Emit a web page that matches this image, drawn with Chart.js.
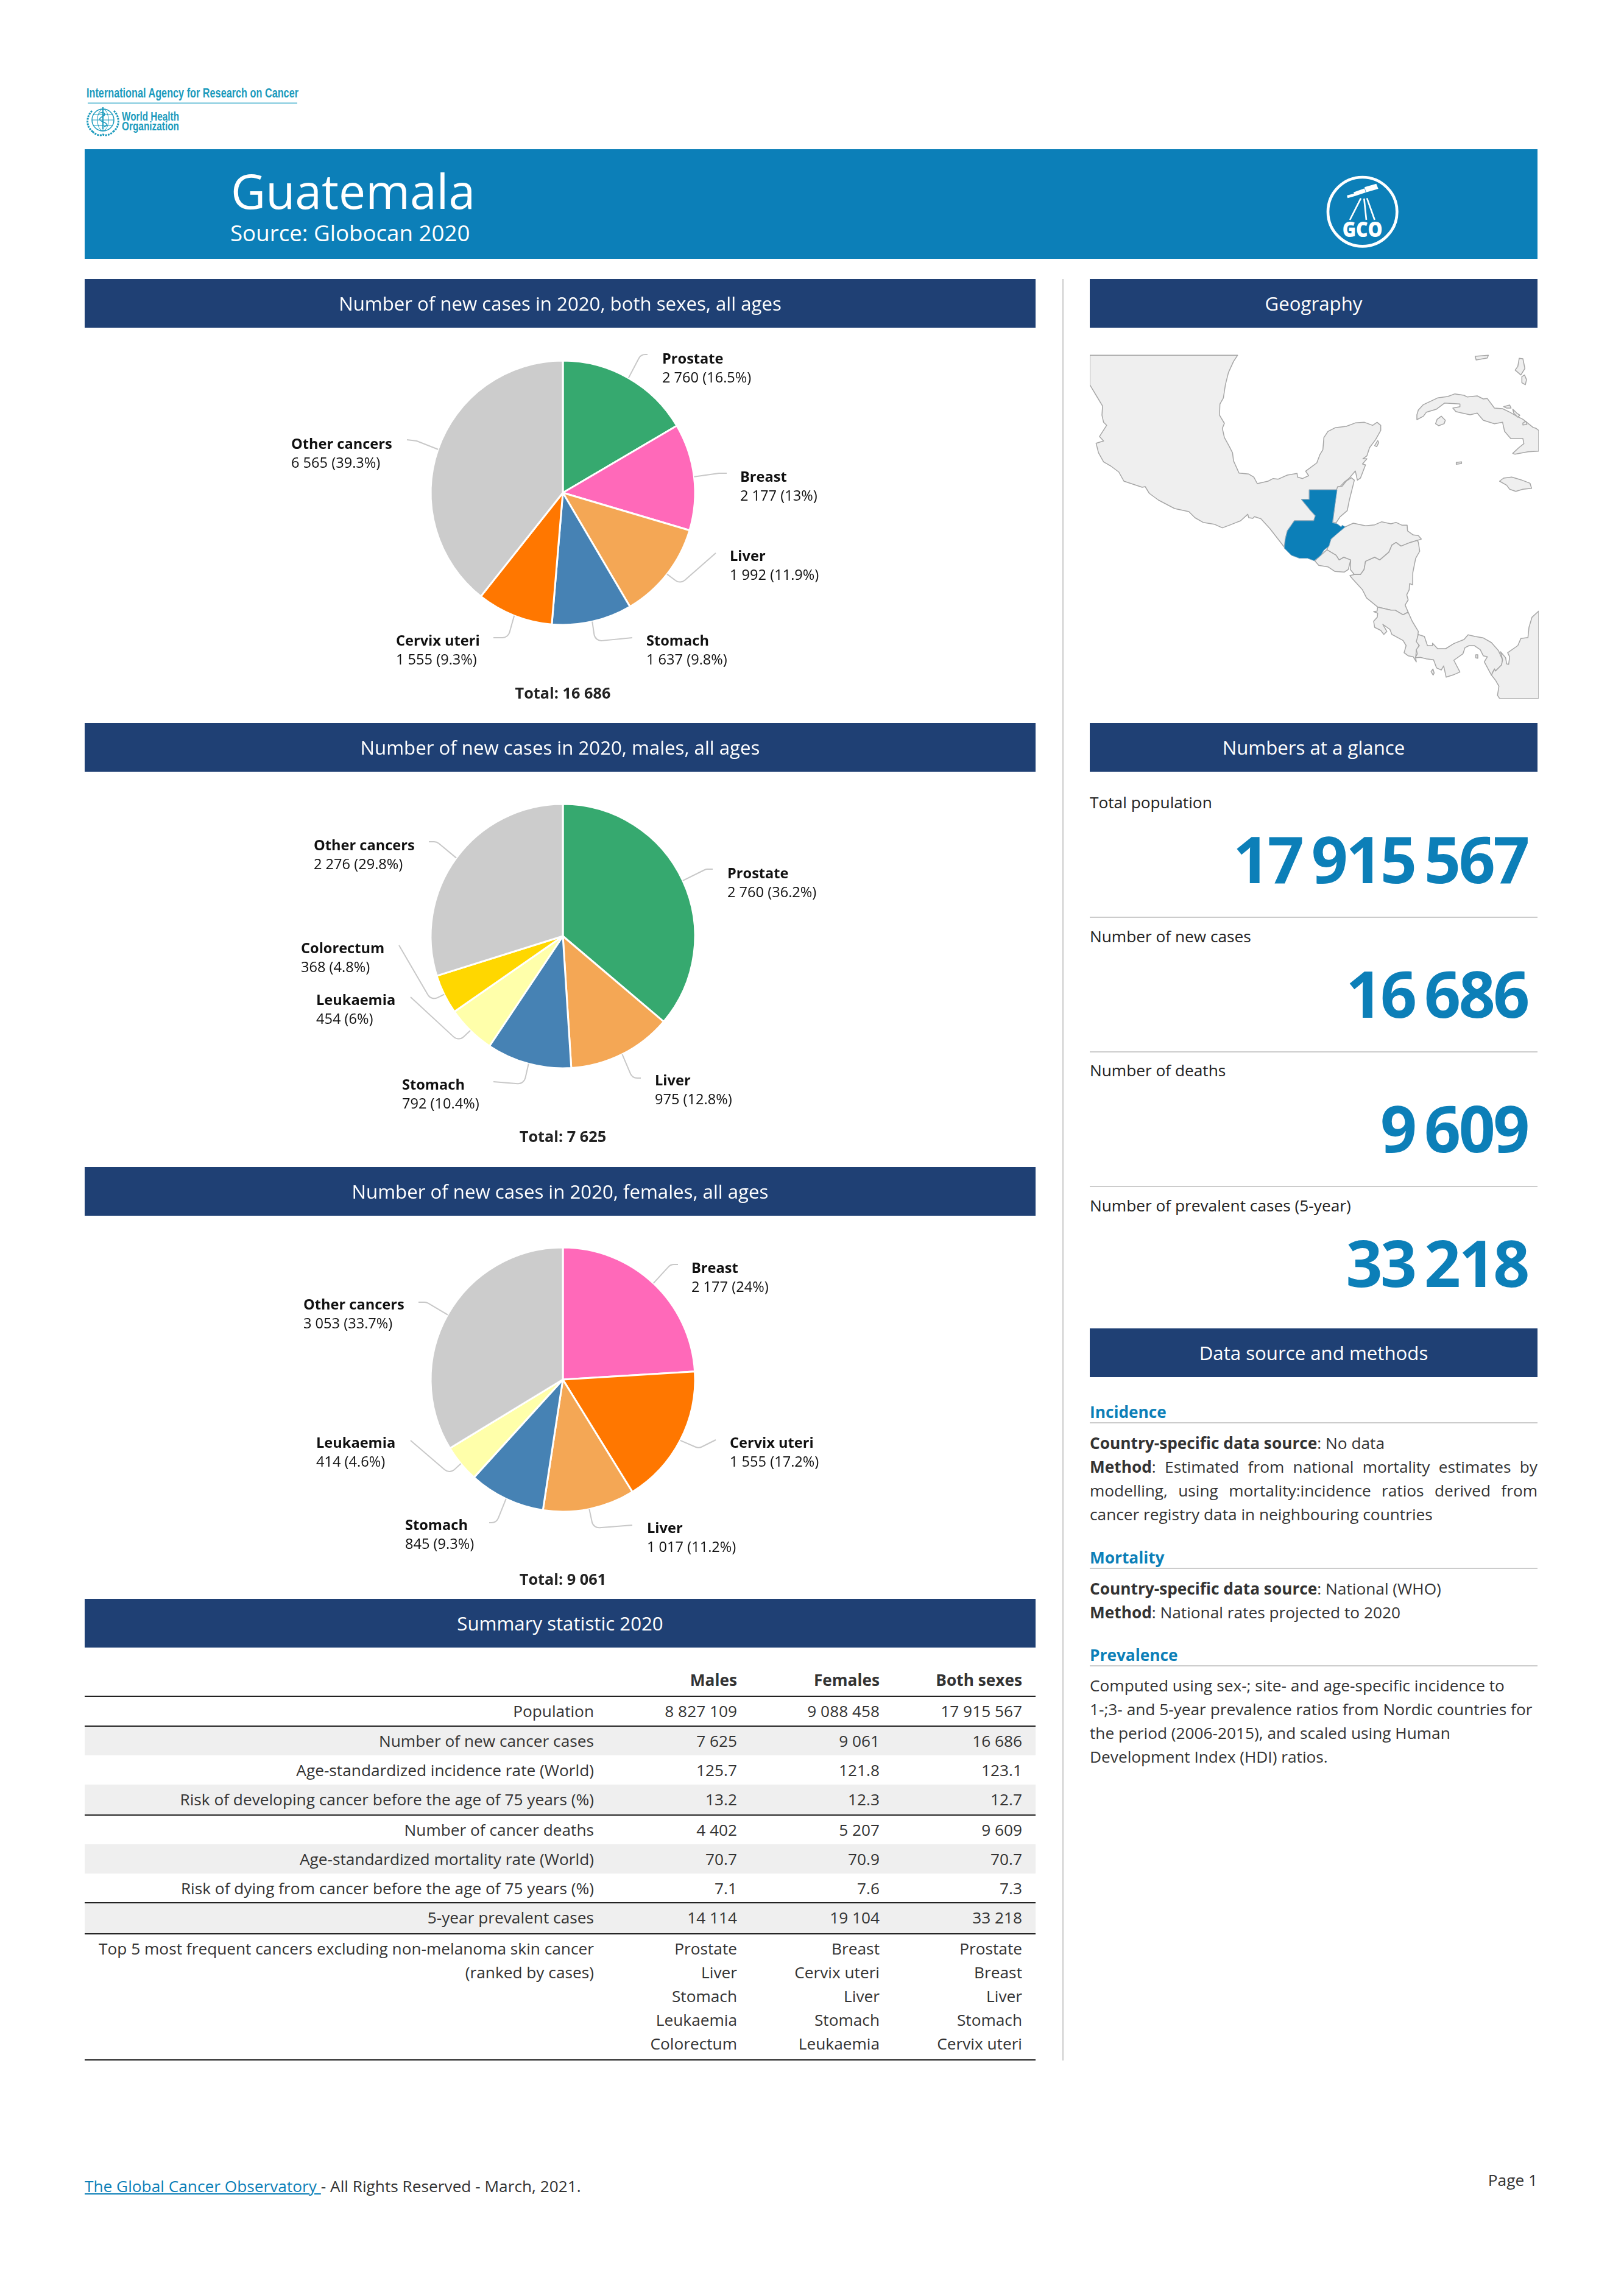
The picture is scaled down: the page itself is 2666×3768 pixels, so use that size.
<!DOCTYPE html>
<html><head><meta charset="utf-8">
<script src="https://cdn.jsdelivr.net/npm/chart.js@4"></script>
<style>
html,body{margin:0;padding:0;background:#fff;width:2666px;height:3768px;overflow:hidden}
body{position:relative;font-family:"Open Sans",sans-serif;color:#333}
.t{position:absolute;height:0;white-space:nowrap;z-index:3}
.r{position:absolute}
canvas{position:absolute;z-index:2}
svg{position:absolute;left:0;top:0;z-index:1}
</style></head><body>
<svg id="art" width="2666" height="3768" viewBox="0 0 2666 3768">
<defs><clipPath id="mapclip"><rect x="1789" y="582" width="737" height="565"/></clipPath></defs>
</svg>
<script>
// ---------- data ----------
const bothCategories=["Prostate","Breast","Liver","Stomach","Cervix uteri","Other cancers"];
const bothValues=[2760,2177,1992,1637,1555,6565];
const maleCategories=["Prostate","Liver","Stomach","Leukaemia","Colorectum","Other cancers"];
const maleValues=[2760,975,792,454,368,2276];
const femaleCategories=["Breast","Cervix uteri","Liver","Stomach","Leukaemia","Other cancers"];
const femaleValues=[2177,1555,1017,845,414,3053];
const siteColours={"Prostate":"#36a96f","Breast":"#ff69b9","Liver":"#f4a755","Stomach":"#4682b4","Cervix uteri":"#ff7700","Leukaemia":"#ffffaa","Colorectum":"#ffd700","Other cancers":"#cccccc"};
const tableColumns=["Males","Females","Both sexes"];
const tableRows=[
 ["Population","8 827 109","9 088 458","17 915 567"],
 ["Number of new cancer cases","7 625","9 061","16 686"],
 ["Age-standardized incidence rate (World)","125.7","121.8","123.1"],
 ["Risk of developing cancer before the age of 75 years (%)","13.2","12.3","12.7"],
 ["Number of cancer deaths","4 402","5 207","9 609"],
 ["Age-standardized mortality rate (World)","70.7","70.9","70.7"],
 ["Risk of dying from cancer before the age of 75 years (%)","7.1","7.6","7.3"],
 ["5-year prevalent cases","14 114","19 104","33 218"]];
const topLabel=["Top 5 most frequent cancers excluding non-melanoma skin cancer","(ranked by cases)"];
const topMales=["Prostate","Liver","Stomach","Leukaemia","Colorectum"];
const topFemales=["Breast","Cervix uteri","Liver","Stomach","Leukaemia"];
const topBoth=["Prostate","Breast","Liver","Stomach","Cervix uteri"];
const glanceLabels=["Total population","Number of new cases","Number of deaths","Number of prevalent cases (5-year)"];
const glanceValues=["17 915 567","16 686","9 609","33 218"];

// ---------- layout (page pixels): label x, first baseline, knee x, knee y, end x, end y ----------
const bothLayout=[[1087,596.5,1052,582,1063,582],[1215,790.5,1181,777,1193,777],[1198,921,1117,959,1175,908],[1061,1060,977,1053,1038,1047],[650,1060,834,1047,810,1047],[478,737,684,724,668,722]];
const maleLayout=[[1194,1442,1159,1427,1170,1427],[1075,1782,1038,1770,1052,1770],[660,1789,860,1780,810,1776],[519,1650,753,1710,674,1637],[494,1565,708,1643,655,1552],[515,1396,717,1382,704,1382]];
const femaleLayout=[[1135,2089.5,1101,2076,1113,2076],[1198,2377,1147,2378,1175,2364],[1062,2517,974,2509,1038,2504],[665,2512,815,2500,803,2500],[519,2377,738,2420,674,2365],[498,2150,700,2138,687,2138]];

const NS="http://www.w3.org/2000/svg";
const art=document.getElementById('art');
function t(html,x,base,size,o={}){
  const d=document.createElement('div');d.className='t';d.innerHTML=html;
  const w=o.weight||400;
  d.style.fontSize=size+'px';d.style.fontWeight=w;d.style.lineHeight='0';
  d.style.top=(base-0.388*size)+'px';d.style.color=o.color||'#333';
  if(o.ls!==undefined)d.style.letterSpacing=o.ls+'px';
  if(o.ws!==undefined)d.style.wordSpacing=o.ws+'px';
  if(o.align==='right'){d.style.right=(2666-x)+'px';}
  else if(o.align==='center'){d.style.left=x+'px';d.style.transform='translateX(-50%)';}
  else d.style.left=x+'px';
  if(o.just){d.style.width=o.just+'px';d.style.whiteSpace='normal';d.style.textAlign='justify';d.style.textAlignLast='justify';}
  document.body.appendChild(d);return d;
}
function rect(x,y,w,h,c){const d=document.createElement('div');d.className='r';d.style.cssText=`left:${x}px;top:${y}px;width:${w}px;height:${h}px;background:${c}`;document.body.insertBefore(d,art);}
const BLUE='#0c7fb8',NAVY='#1f4074';

rect(139,245,2385,180,BLUE);
t('Guatemala',379,343,78.6,{color:'#fff'});
t('Source: Globocan 2020',378,396,36.7,{color:'#fff'});
[[139,458,1561,"Number of new cases in 2020, both sexes, all ages"],[139,1187,1561,"Number of new cases in 2020, males, all ages"],[139,1916,1561,"Number of new cases in 2020, females, all ages"],[139,2625,1561,"Summary statistic 2020"],[1789,458,735,"Geography"],[1789,1187,735,"Numbers at a glance"],[1789,2181,735,"Data source and methods"]].forEach(b=>{
  rect(b[0],b[1],b[2],80,NAVY);
  t(b[3],b[0]+b[2]/2,b[1]+52,31.2,{color:'#fff',align:'center'});
});
rect(1744,458,2,2925,'#cccccc');

// glance
const F=26.25;
[1327,1547,1767,1989].forEach((y,i)=>t(glanceLabels[i],1789,y,F,{color:'#222'}));
[1451,1672,1893,2114].forEach((y,i)=>t(glanceValues[i],2508,y,105,{weight:700,color:BLUE,align:'right',ls:-3.4,ws:-8.5}));
[1506,1727,1948].forEach(y=>rect(1789,y-1,735,2,'#cccccc'));

// methods
[["Incidence",2328],["Mortality",2567],["Prevalence",2727]].forEach(a=>{t(a[0],1789,a[1],F,{weight:700,color:BLUE});rect(1789,a[1]+7,735,2,'#cccccc');});
t('<b>Country-specific data source</b>: No data',1789,2379,F);
t('<b>Method</b>: Estimated from national mortality estimates by',1789,2418,F,{just:735});
t('modelling, using mortality:incidence ratios derived from',1789,2457,F,{just:735});
t('cancer registry data in neighbouring countries',1789,2496,F);
t('<b>Country-specific data source</b>: National (WHO)',1789,2618,F);
t('<b>Method</b>: National rates projected to 2020',1789,2657,F);
t('Computed using sex-; site- and age-specific incidence to',1789,2777,F);
t('1-;3- and 5-year prevalence ratios from Nordic countries for',1789,2816,F);
t('the period (2006-2015), and scaled using Human',1789,2855,F);
t('Development Index (HDI) ratios.',1789,2894,F);

// table
const rowTops=[2785,2834,2882,2930,2980,3028,3076,3124,3175];
const shaded=[1,3,5,7];
shaded.forEach(i=>rect(139,rowTops[i],1561,rowTops[i+1]-rowTops[i],'#efefef'));
[2785,2834,2980,3124,3175,3382].forEach(y=>rect(139,y-1,1561,2,'#222'));
const colX=[975,1210,1444,1678];
tableColumns.forEach((c,i)=>t(c,colX[i+1],2768,F,{weight:700,align:'right'}));
tableRows.forEach((r,i)=>{const b=rowTops[i]+34;r.forEach((c,j)=>t(c,colX[j],b,F,{align:'right'}));});
topLabel.forEach((c,i)=>t(c,colX[0],3209+39*i,F,{align:'right'}));
[topMales,topFemales,topBoth].forEach((col,j)=>col.forEach((c,i)=>t(c,colX[j+1],3209+39*i,F,{align:'right'})));

// footer
t('<span style="color:#0c7fb8;text-decoration:underline">The Global Cancer Observatory </span>- All Rights Reserved - March, 2021.',139,3599,F);
t('Page 1',2524,3589,F,{align:'right'});

// ---------- map & logos (decor) ----------
const landA=[
 "27,25 755,25 735,55 710,110 695,170 685,235 668,265 666,320 690,360 680,385 690,430 712,470 730,505 735,545 762,605 810,610 835,625 852,657 905,645 930,632 955,635 1000,615 1048,607 1050,625 1075,632 1105,618 1090,596 1145,555 1160,515 1175,490 1180,430 1200,400 1235,382 1290,375 1335,358 1380,355 1420,370 1442,355 1460,370 1460,395 1435,440 1405,480 1392,520 1372,535 1392,535 1370,560 1385,565 1360,630 1345,640 1335,595 1305,630 1280,650 1245,688 1108,688 1108,735 1070,735 1115,790 1138,815 1130,840 1035,840 1000,890 990,930 985,970 950,925 915,880 870,830 838,820 830,828 810,825 805,808 770,840 720,860 680,875 640,857 585,848 545,825 515,795 445,780 365,738 320,705 300,672 285,675 195,645 170,600 130,570 95,550 70,505 58,458 95,447 75,425 110,370 95,355 87,320 90,275 60,225 27,170"];
const landB=[
 "222,688 228,672 250,670 270,645 295,628 310,640 285,740 275,790 240,820 220,850 203,850",
 "618,318 625,295 650,268 720,235 770,228 805,215 850,222 865,230 915,225 945,240 965,238 1000,285 1040,288 1075,305 1110,325 1140,340 1190,380 1205,385 1218,395 1218,497 1165,500 1100,512 1090,508 1120,480 1145,460 1140,435 1080,435 1050,400 1040,355 1000,362 945,345 915,310 880,318 835,308 810,302 795,285 830,278 830,265 755,260 715,290 665,305 650,325 618,342",
 "718,340 738,325 758,345 752,362 725,372 710,362",
 "1025,645 1045,630 1085,625 1130,638 1175,655 1183,680 1140,685 1105,695 1075,685 1060,665",
 "812,553 838,550 838,558 812,562",
 "1122,40 1140,42 1150,90 1130,122 1102,98 1115,80",
 "1135,130 1148,122 1158,145 1152,170 1135,160",
 "905,30 970,25 965,38 910,48",
 "1045,278 1075,270 1082,285 1060,285",
 "1090,290 1110,310 1125,320 1115,330 1095,310",
 "1140,358 1155,350 1160,365 1140,368",
 "410,470 425,445 430,455 420,475"];
const landC=[
 "265,15 305,-3 365,10 410,5 445,-10 490,0 515,-7 545,7 570,7 572,35 600,55 625,58 640,75 620,82 585,92 540,110 515,92 495,105 480,140 435,178 410,165 365,185 358,225 340,250 310,250 290,225 292,178 258,165 235,178 220,155 175,128 195,75 225,45",
 "175,128 220,155 235,178 258,165 292,178 280,225 260,238 215,235 180,212 135,205 115,182 150,150",
 "620,82 585,92 540,110 515,92 495,105 480,140 435,178 410,165 365,185 358,225 340,250 310,250 288,255 300,270 350,325 370,365 425,410 490,425 510,425 550,448 575,435 560,400 575,375 568,350 580,325 582,295 597,300 598,240 612,170 632,135 625,90",
 "425,410 490,425 510,425 550,448 575,435 595,480 625,530 620,575 628,600 615,625 612,660 615,680 600,655 575,650 555,635 565,600 550,575 495,545 485,520 450,495 470,530 455,545 440,525 410,510 405,480 423,460 425,440 405,433 422,430",
 "625,545 655,555 670,600 695,600 695,588 720,615 760,615 800,590 850,570 870,547 905,555 945,562 985,585 1020,625 1040,670 1035,695 1005,725 1000,715 985,745 950,680 965,655 945,650 930,620 900,600 875,600 855,610 845,640 800,672 830,730 795,745 762,755 750,700 738,720 715,710 700,670 665,665 635,658 610,660 620,640 615,620 630,600 615,580",
 "1218,430 1185,460 1170,510 1165,560 1130,565 1115,600 1065,635 1075,655 1070,692 1060,690 1055,660 1030,630 1040,670 1035,695 1005,725 1000,715 985,745 1005,770 1022,800 1015,845 1025,860 1218,860",
 "908,645 918,645 918,662 908,660",
 "688,728 697,715 703,735 698,745"];
const guatemala="1108,688 1245,688 1222,850 1245,855 1265,870 1270,862 1285,870 1250,900 1215,930 1205,965 1180,985 1165,1010 1132,1037 1100,1025 1060,1025 1020,1010 985,975 990,930 1000,890 1035,840 1130,840 1138,815 1115,790 1070,735 1108,735";
function group(parent,tr){const g=document.createElementNS(NS,'g');g.setAttribute('transform',tr);parent.appendChild(g);return g;}
function poly(g,pts,fill,stroke,sw){const p=document.createElementNS(NS,'polygon');p.setAttribute('points',pts);p.setAttribute('fill',fill);p.setAttribute('stroke',stroke);p.setAttribute('stroke-width',sw);p.setAttribute('stroke-linejoin','round');g.appendChild(p);}
const map=group(art,'');map.setAttribute('clip-path','url(#mapclip)');
const ga=group(map,'translate(1780 575) scale(.33333)');
const gb=group(map,'translate(2120 575) scale(.33333)');
const gc=group(map,'translate(2120 860) scale(.33333)');
landA.forEach(p=>poly(ga,p,'#efefef','#a6a6a6',4.5));
landB.forEach(p=>poly(gb,p,'#efefef','#a6a6a6',4.5));
landC.forEach(p=>poly(gc,p,'#efefef','#a6a6a6',4.5));
poly(group(map,'translate(1780 575) scale(.33333)'),guatemala,BLUE,'#7fa9c4',3);

art.insertAdjacentHTML('beforeend',`
<g fill="#1c9bbd" font-family="Liberation Sans, sans-serif">
<text x="142" y="160" font-size="22" font-weight="700" textLength="348" lengthAdjust="spacingAndGlyphs">International Agency for Research on Cancer</text>
<rect x="144" y="168.5" width="344" height="1.5" fill="#4db3d0"/>
<text x="200" y="198" font-size="21" font-weight="700" textLength="94" lengthAdjust="spacingAndGlyphs">World Health</text>
<text x="200" y="214" font-size="21" font-weight="700" textLength="94" lengthAdjust="spacingAndGlyphs">Organization</text>
</g>
<g fill="none" stroke="#1c9bbd">
<ellipse cx="169" cy="197" rx="18" ry="18" stroke-width="1.5"/>
<ellipse cx="169" cy="197" rx="9" ry="18" stroke-width="1"/>
<path d="M151 197H187M154 188H184M154 206H184M169 179V215" stroke-width="1"/>
<path d="M169 176V212" stroke-width="2"/>
<path d="M163 186c8-4 12 2 6 5s-8 6 0 9 8 6 2 8" stroke-width="1.6"/>
<path d="M151 182c-10 10-10 26 1 34M187 182c10 10 10 26-1 34M152 216c6 6 12 7 17 5 5 2 11 1 17-5" stroke-width="3" stroke-dasharray="3 1.5"/>
</g>
<g transform="translate(2100 250) scale(.33333)">
<circle cx="410" cy="293" r="170" fill="none" stroke="#fff" stroke-width="14"/>
<path d="M333 213L368 203 372 216 337 226Z M366 197L420 178 426 198 372 216Z M420 172L478 155 488 180 428 197Z" fill="#fff"/>
<path d="M402 227L348 333M418 228L429 333M432 226L470 333" stroke="#fff" stroke-width="8" fill="none"/>
<text x="410" y="418" text-anchor="middle" font-family="Open Sans" font-weight="800" font-size="104" fill="#fff" textLength="198" lengthAdjust="spacingAndGlyphs">GCO</text>
</g>`);

// ---------- charts ----------
const labelPlugin={id:'labelPlugin',afterDatasetsDraw(chart,args,opts){
  const ctx=chart.ctx,cv=chart.canvas,ox=parseFloat(cv.style.left),oy=parseFloat(cv.style.top);
  const arcs=chart.getDatasetMeta(0).data,vals=chart.data.datasets[0].data,total=vals.reduce((a,b)=>a+b,0);
  ctx.save();
  arcs.forEach((a,i)=>{
    const L=opts.layout[i],m=(a.startAngle+a.endAngle)/2;
    const ax=a.x+a.outerRadius*Math.cos(m),ay=a.y+a.outerRadius*Math.sin(m);
    ctx.beginPath();ctx.moveTo(ax,ay);ctx.arcTo(L[2]-ox,L[3]-oy,L[4]-ox,L[5]-oy,12);ctx.lineTo(L[4]-ox,L[5]-oy);
    ctx.strokeStyle='#c8c8c8';ctx.lineWidth=2;ctx.stroke();
    ctx.fillStyle='#111';ctx.textAlign='left';ctx.textBaseline='alphabetic';
    ctx.font='700 23.6px "Open Sans"';ctx.fillText(chart.data.labels[i],L[0]-ox,L[1]-oy);
    const n=String(vals[i]).replace(/\B(?=(\d{3})+$)/g,' ');
    ctx.font='400 23.6px "Open Sans"';ctx.fillText(`${n} (${Math.round(vals[i]/total*1000)/10}%)`,L[0]-ox,L[1]+31-oy);
  });
  ctx.font='700 25.3px "Open Sans"';ctx.textAlign='center';ctx.fillStyle='#222';
  ctx.fillText('Total: '+String(total).replace(/\B(?=(\d{3})+$)/g,' '),arcs[0].x,opts.totalBase-oy);
  ctx.restore();
}};
function pie(cats,vals,layout,cy,totalBase){
  const H=722,W=1570,c=document.createElement('canvas');
  c.width=W;c.height=H;c.style.left='139px';c.style.top=(cy-H/2)+'px';c.style.width=W+'px';c.style.height=H+'px';
  document.body.appendChild(c);
  new Chart(c,{type:'pie',plugins:[labelPlugin],data:{labels:cats,datasets:[{data:vals,backgroundColor:cats.map(k=>siteColours[k]),borderColor:'#fff',borderWidth:3,radius:217}]},
   options:{responsive:false,animation:false,devicePixelRatio:1,layout:{padding:0},plugins:{legend:{display:false},tooltip:{enabled:false},labelPlugin:{layout,totalBase}}}});
}
pie(bothCategories,bothValues,bothLayout,809,1147);
pie(maleCategories,maleValues,maleLayout,1537,1875);
pie(femaleCategories,femaleValues,femaleLayout,2265,2602);
</script>
</body></html>
